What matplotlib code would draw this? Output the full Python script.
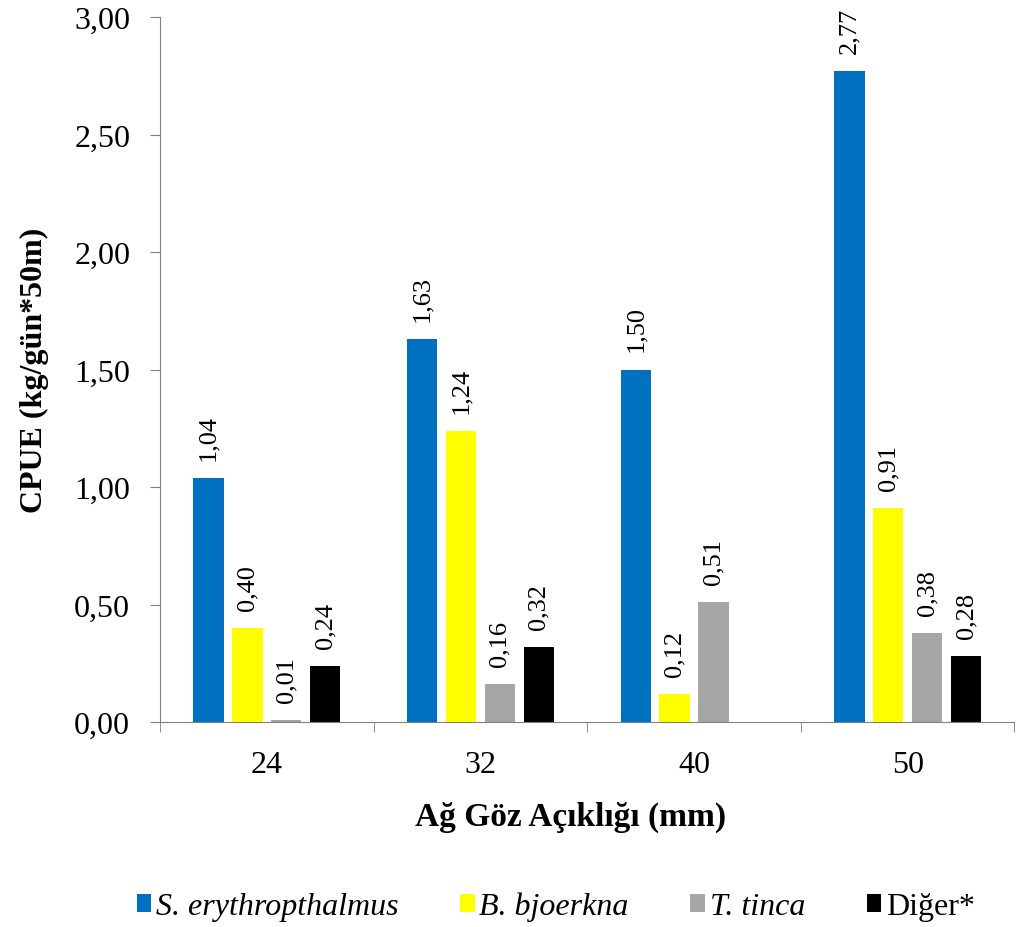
import numpy as np
import matplotlib.pyplot as plt

plt.rcParams['font.family'] = ['Liberation Serif', 'DejaVu Serif']

categories = ['24', '32', '40', '50']
series_names = ['S. erythropthalmus', 'B. bjoerkna', 'T. tinca', 'Diğer*']
s_eryth = [1.04, 1.63, 1.50, 2.77]
b_bjoerkna = [0.40, 1.24, 0.12, 0.91]
t_tinca = [0.01, 0.16, 0.51, 0.38]
diger = [0.24, 0.32, None, 0.28]
colors = ['#0070C0', '#FFFF00', '#A6A6A6', '#000000']


def fmt(v):
    return f'{v:.2f}'.replace('.', ',')


fig = plt.figure(figsize=(10.16, 9.28), dpi=100)
ax = fig.add_axes([0.1575, 0.2209, 0.841, 0.7597])

x = np.arange(len(categories))
step = 0.182
width = 0.142
all_series = [s_eryth, b_bjoerkna, t_tinca, diger]
handles = []
for i, (vals, name, col) in enumerate(zip(all_series, series_names, colors)):
    xs = [xi + (i - 1.5) * step for xi, v in zip(x, vals) if v is not None]
    ys = [v for v in vals if v is not None]
    b = ax.bar(xs, ys, width=width, color=col, label=name)
    handles.append(b)
    for xv, yv in zip(xs, ys):
        ax.annotate(fmt(yv), (xv, yv), xytext=(0, 13), textcoords='offset points',
                    rotation=90, ha='center', va='bottom', fontsize=19)

ax.set_xlim(-0.5, 3.5)
ax.set_ylim(0, 3.0)
ax.set_yticks(np.arange(0, 3.01, 0.5))
ax.set_yticklabels([fmt(v) for v in np.arange(0, 3.01, 0.5)], fontsize=23)
ax.set_xticks(x)
ax.set_xticklabels(categories, fontsize=23)
ax.set_xticks(np.arange(-0.5, 4, 1), minor=True)
ax.tick_params(axis='x', which='major', length=0, pad=20)
ax.tick_params(axis='x', which='minor', length=7.5, color='#808080', direction='out')
ax.tick_params(axis='y', length=7.5, color='#808080', direction='out', pad=14)
for s in ['top', 'right']:
    ax.spines[s].set_visible(False)
for s in ['left', 'bottom']:
    ax.spines[s].set_color('#808080')

ax.set_ylabel('CPUE (kg/gün*50m)', fontsize=23, fontweight='bold', labelpad=18)
ax.set_xlabel('Ağ Göz Açıklığı (mm)', fontsize=24, fontweight='bold', labelpad=16)
ax.xaxis.label.set_x(0.48)

leg = fig.legend(handles=handles, loc='center', bbox_to_anchor=(0.547, 0.022), ncol=4,
                 frameon=False, fontsize=23, handlelength=0.45, handleheight=0.45,
                 handletextpad=0.15, columnspacing=1.93)
for t in leg.get_texts()[:3]:
    t.set_fontstyle('italic')

fig.savefig('out.png', dpi=100)
